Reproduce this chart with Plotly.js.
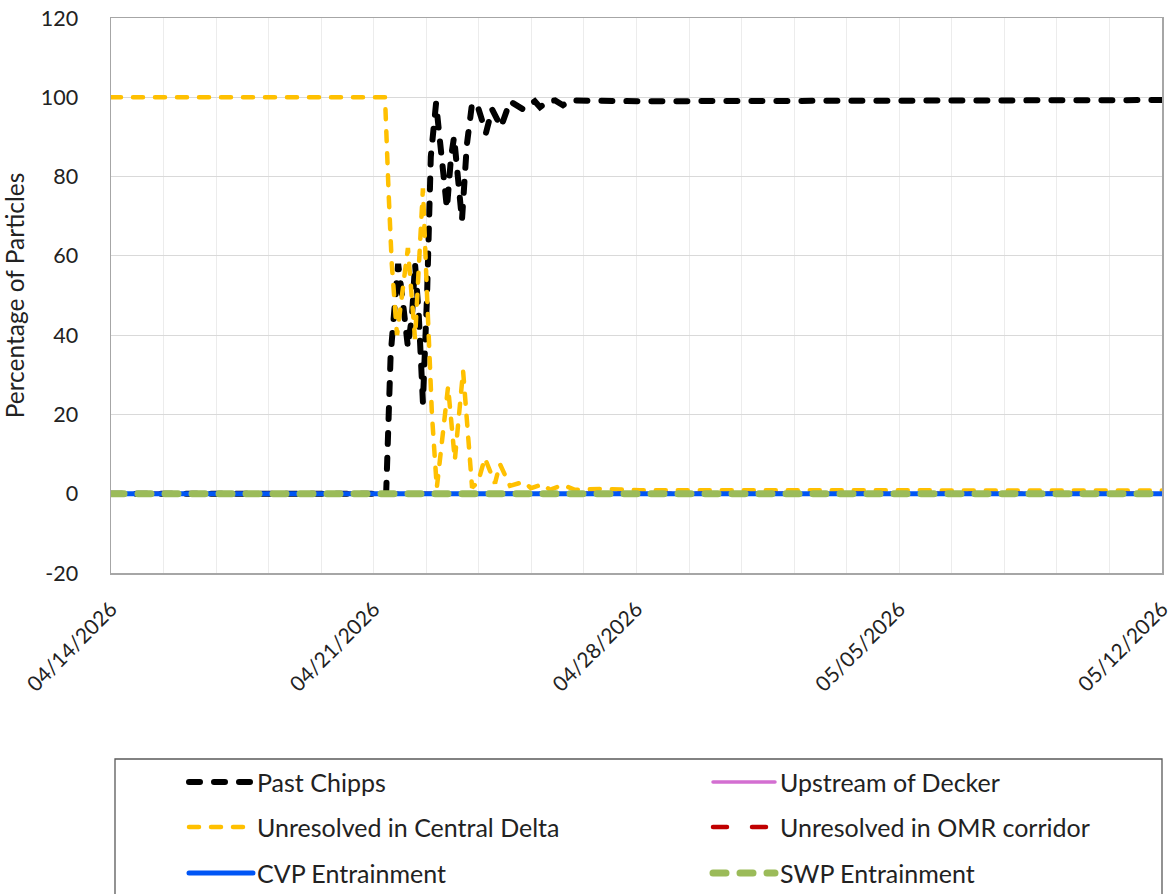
<!DOCTYPE html>
<html>
<head>
<meta charset="utf-8">
<script src="https://cdn.plot.ly/plotly-3.0.1.min.js"></script>
<style>
  html, body { margin: 0; padding: 0; background: #fff; }
  #chart { width: 1172px; height: 894px; }
  /* Excel draws its dashes with round ends */
  #chart .js-line, #chart .shapelayer path { stroke-linecap: round !important; }
</style>
</head>
<body>
<div id="chart"></div>
<script>
// time in days after 04/14/2026 00:00
let chipps_days = [0, 7.33, 7.45, 7.52, 7.65, 7.78, 7.91, 8.02, 8.10, 8.20, 8.31, 8.42, 8.52, 8.66,
    8.82, 8.95, 9.06, 9.14, 9.24, 9.35, 9.48, 9.62, 9.76, 9.99, 10.15, 10.39, 10.63, 10.97,
    11.29, 11.43, 11.64, 11.83, 12.04, 12.23, 14.09, 16.17, 28];
let chipps_pct = [0, 0, 35, 43, 58, 48, 37, 45, 58, 45, 23, 50, 85, 98.5,
    85, 72, 85, 90, 80, 69, 88, 98.5, 98, 91, 97, 92.5, 99, 97,
    99, 97.5, 99, 99.2, 98, 99.2, 99.0, 99.0, 99.3];

let central_days = [0, 7.30, 7.40, 7.48, 7.62, 7.91, 8.10, 8.31, 8.42, 8.55, 8.68, 8.98, 9.16,
    9.38, 9.62, 9.78, 9.96, 10.23, 10.36, 10.63, 11.0, 11.19, 11.51, 11.69, 12.04, 12.36,
    13.03, 14.09, 28];
let central_pct = [100, 100, 75, 58, 40, 62, 39, 77, 50, 20, 1.5, 27, 8.5,
    31, 1.5, 3, 9, 2.6, 7.5, 2, 3, 1.4, 2.4, 1, 2.2, 1,
    1.2, 0.9, 0.8];

let flat_days = [0, 28];
let decker_pct = [0, 0];
let omr_pct = [0, 0];
let cvp_pct = [0, 0];
let swp_pct = [0, 0];

let x_tick_days = [0, 7, 14, 21, 28];
let x_tick_labels = ['04/14/2026', '04/21/2026', '04/28/2026', '05/05/2026', '05/12/2026'];
let y_tick_vals = [-20, 0, 20, 40, 60, 80, 100, 120];
let y_tick_labels = ['-20', '0', '20', '40', '60', '80', '100', '120'];

// dash lengths are given for round caps (visible dash = dash + width)
let series = [
    { name: 'Past Chipps', x: chipps_days, y: chipps_pct, color: '#000000', width: 6, dash: '11px,14px' },
    { name: 'Upstream of Decker', x: flat_days, y: decker_pct, color: '#D36FD1', width: 3.5, dash: 'solid' },
    { name: 'Unresolved in Central Delta', x: central_days, y: central_pct, color: '#FFC000', width: 4.5, dash: '10px,12px' },
    { name: 'Unresolved in OMR corridor', x: flat_days, y: omr_pct, color: '#C00000', width: 4.5, dash: '14px,25px' },
    { name: 'CVP Entrainment', x: flat_days, y: cvp_pct, color: '#0055F5', width: 5, dash: 'solid' },
    { name: 'SWP Entrainment', x: flat_days, y: swp_pct, color: '#9BBB59', width: 7, dash: '13px,14px' }
];

let data = series.map(s => ({
    type: 'scatter',
    mode: 'lines',
    name: s.name,
    x: s.x,
    y: s.y,
    line: { color: s.color, width: s.width, dash: s.dash },
    showlegend: false
}));

// plot area in pixels: left 111, right 1162, top 18, bottom 573
let L = 111, R = 10, T = 18, B = 321, W = 1172, H = 894;
let pw = W - L - R, ph = H - T - B;
function px(x) { return (x - L) / pw; }
function py(y) { return (H - B - y) / ph; }

// legend drawn by hand: two columns, three rows
let legend_cols = [[189, 253, 255], [713, 775, 778]];
let legend_rows = [782, 827, 873];
let shapes = [{
    type: 'rect', xref: 'paper', yref: 'paper',
    x0: px(115), x1: px(1162), y0: py(759), y1: py(905),
    line: { color: '#595959', width: 1.3 }, fillcolor: 'rgba(0,0,0,0)'
}];
let annotations = [];
series.forEach((s, i) => {
    let col = legend_cols[i % 2], row = legend_rows[Math.floor(i / 2)];
    shapes.push({
        type: 'line', xref: 'paper', yref: 'paper',
        x0: px(col[0]), x1: px(col[1]), y0: py(row), y1: py(row),
        line: { color: s.color, width: s.width, dash: s.dash }
    });
    annotations.push({
        xref: 'paper', yref: 'paper', x: px(col[2]), y: py(row),
        xanchor: 'left', yanchor: 'middle', showarrow: false,
        text: s.name, font: { family: 'Lato, sans-serif', size: 25, color: '#222' }
    });
});

let layout = {
    width: W,
    height: H,
    margin: { l: L, r: R, t: T, b: B },
    paper_bgcolor: '#fff',
    plot_bgcolor: '#fff',
    showlegend: false,
    font: { family: 'Lato, sans-serif', color: '#222' },
    xaxis: {
        range: [0, 28],
        tickmode: 'array',
        tickvals: x_tick_days,
        ticktext: x_tick_labels,
        tickangle: -45,
        tickfont: { size: 21, color: '#222' },
        ticklabelstandoff: 14,
        ticklabeloverflow: 'allow',
        showgrid: true,
        gridcolor: '#ececec',
        minor: { tickmode: 'linear', tick0: 0, dtick: 1.4, showgrid: true, gridcolor: '#ececec', gridwidth: 1 },
        showline: true,
        linecolor: '#a6a6a6',
        linewidth: 1.5,
        mirror: true,
        zeroline: false,
        ticks: ''
    },
    yaxis: {
        range: [-20, 120],
        tickmode: 'array',
        tickvals: y_tick_vals,
        ticktext: y_tick_labels,
        tickfont: { size: 21.5, color: '#222' },
        ticklabelstandoff: 27,
        gridcolor: '#d9d9d9',
        showline: true,
        linecolor: '#a6a6a6',
        linewidth: 1.5,
        mirror: true,
        zeroline: false,
        ticks: '',
        title: { text: 'Percentage of Particles', font: { size: 24.5, color: '#222' }, standoff: 14 }
    },
    shapes: shapes,
    annotations: annotations
};

Plotly.newPlot('chart', data, layout, { displayModeBar: false, staticPlot: true });
</script>
</body>
</html>
